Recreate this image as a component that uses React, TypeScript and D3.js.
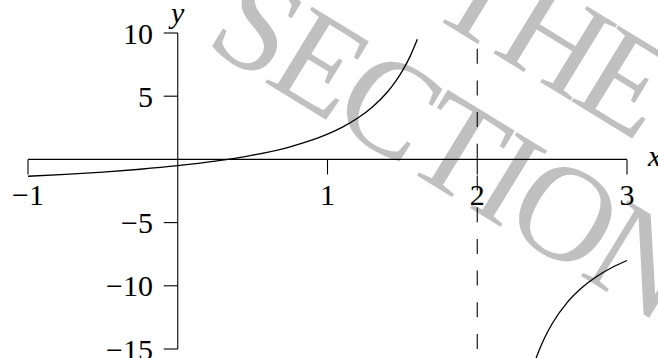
import React, { useEffect, useRef } from "react";
import * as d3 from "d3";

// Branch left of the asymptote x = 2
const leftX = [-1, -0.75, -0.5, -0.25, 0, 0.25, 0.5, 0.75, 1, 1.1, 1.2, 1.3, 1.4, 1.45, 1.5, 1.55, 1.6];
const leftY = [-1.333, -1.182, -1, -0.778, -0.5, -0.143, 0.333, 1, 2, 2.556, 3.25, 4.143, 5.333, 6.091, 7, 8.111, 9.5];
// Branch right of the asymptote
const rightX = [2.385, 2.4, 2.45, 2.5, 2.6, 2.7, 2.8, 2.9, 3];
const rightY = [-16, -15.5, -14.111, -13, -11.333, -10.143, -9.25, -8.556, -8];

const asymptoteX = 2;
const xTicks = [-1, 1, 2, 3];
const xTickLabels = ["\u22121", "1", "2", "3"];
const yTicks = [10, 5, -5, -10, -15];
const yTickLabels = ["10", "5", "\u22125", "\u221210", "\u221215"];
const watermarkLines = ["THE", "SECTION"];

const W = 658;
const H = 358;

// glyph centres along a rotated baseline, in em units
function glyphCentres(widths: number[], start: number) {
  const out: number[] = [];
  let acc = start;
  widths.forEach((w) => {
    out.push(acc + w / 2);
    acc += w;
  });
  return out;
}

export default function App() {
  const ref = useRef<SVGSVGElement>(null);

  useEffect(() => {
    document.body.style.margin = "0";
    const svg = d3.select(ref.current);
    svg.selectAll("*").remove();

    const x = d3.scaleLinear().domain([-1, 3]).range([28, 627]);
    const y = d3.scaleLinear().domain([-15, 10]).range([349, 33]);
    const font = "'Liberation Serif', 'Times New Roman', serif";

    // watermark behind the plot: glyph centres spaced for a 126px em,
    // drawn a little larger so the strokes read heavier
    const em = 126;
    const wm = svg
      .append("g")
      .attr("transform", "translate(207,42) rotate(31.5)")
      .attr("fill", "#c0c0c0")
      .attr("text-anchor", "middle")
      .style("font-family", font)
      .style("font-size", "136px");
    const theX = glyphCentres([0.611, 0.722, 0.611], 1.373).map((v) => (v * em).toFixed(1));
    const secX = glyphCentres([0.556, 0.611, 0.667, 0.611, 0.333, 0.722, 0.722], 0).map((v) =>
      (v * em).toFixed(1)
    );
    wm.append("text").attr("x", theX.join(" ")).attr("y", -140).text(watermarkLines[0]);
    wm.append("text").attr("x", secX.join(" ")).attr("y", 4).text(watermarkLines[1]);

    const g = svg.append("g").attr("stroke", "#000").attr("fill", "none");

    // x axis with downward ticks
    g.append("line")
      .attr("x1", x(-1)).attr("x2", x(3))
      .attr("y1", y(0)).attr("y2", y(0))
      .attr("stroke-width", 1.1);
    xTicks.forEach((t) => {
      g.append("line")
        .attr("x1", x(t)).attr("x2", x(t))
        .attr("y1", y(0)).attr("y2", y(0) + 15)
        .attr("stroke-width", 1.1);
    });

    // y axis with leftward ticks
    g.append("line")
      .attr("x1", x(0)).attr("x2", x(0))
      .attr("y1", y(10)).attr("y2", y(-15))
      .attr("stroke-width", 1.1);
    yTicks.forEach((t) => {
      g.append("line")
        .attr("x1", x(0) - 14).attr("x2", x(0))
        .attr("y1", y(t)).attr("y2", y(t))
        .attr("stroke-width", 1.1);
    });

    // vertical asymptote, dashes laid out from the bottom up
    g.append("line")
      .attr("x1", x(asymptoteX)).attr("x2", x(asymptoteX))
      .attr("y1", y(-15)).attr("y2", y(10))
      .attr("stroke-width", 1.1)
      .attr("stroke-dasharray", "15 16.7");

    const line = d3
      .line<[number, number]>()
      .x((d) => x(d[0]))
      .y((d) => y(d[1]))
      .curve(d3.curveMonotoneX);

    const leftPts = leftX.map((v, i) => [v, leftY[i]] as [number, number]);
    const rightPts = rightX.map((v, i) => [v, rightY[i]] as [number, number]);
    g.append("path").attr("d", line(leftPts)).attr("stroke-width", 1.3);
    g.append("path").attr("d", line(rightPts)).attr("stroke-width", 1.3);

    const labels = svg
      .append("g")
      .attr("fill", "#000")
      .style("font-family", font)
      .style("font-size", "30px");

    xTicks.forEach((t, i) => {
      labels.append("text")
        .attr("x", x(t)).attr("y", 205)
        .attr("text-anchor", "middle")
        .text(xTickLabels[i]);
    });
    yTicks.forEach((t, i) => {
      labels.append("text")
        .attr("x", 153).attr("y", y(t) + 10.5)
        .attr("text-anchor", "end")
        .text(yTickLabels[i]);
    });

    labels.append("text")
      .attr("x", 648).attr("y", 166)
      .style("font-style", "italic")
      .text("x");
    labels.append("text")
      .attr("x", 171).attr("y", 23)
      .style("font-style", "italic")
      .text("y");
  }, []);

  return (
    <svg
      ref={ref}
      width={W}
      height={H}
      style={{ position: "absolute", left: 0, top: 0, background: "#fff" }}
    />
  );
}
